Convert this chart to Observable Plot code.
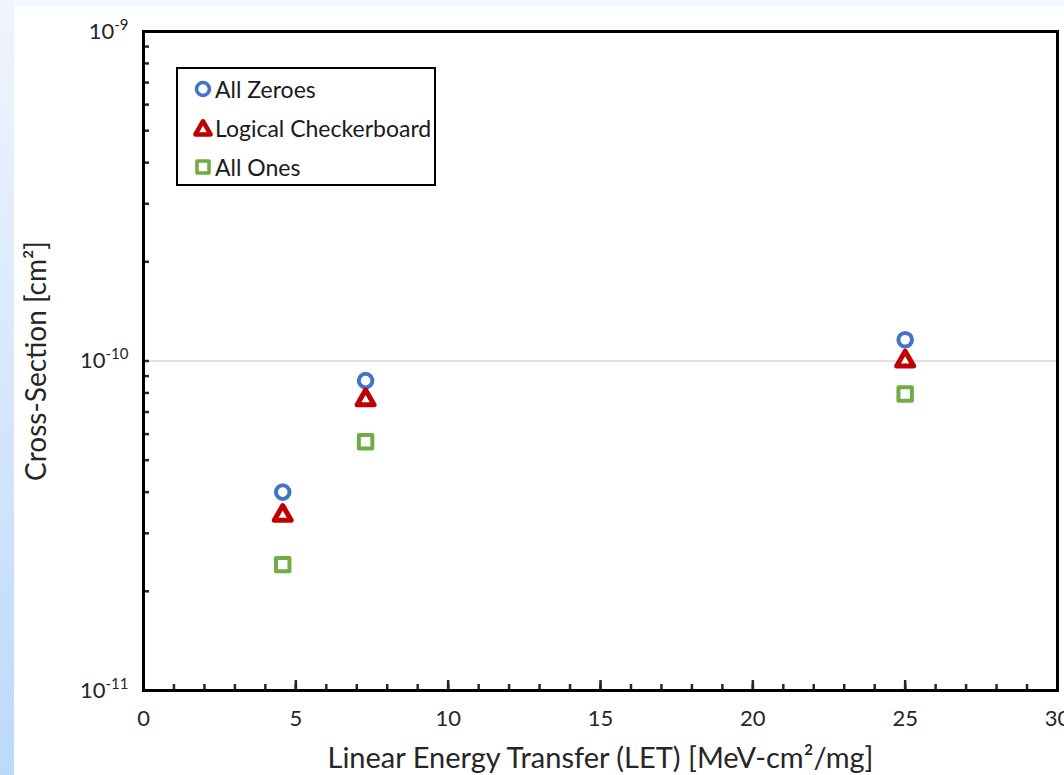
<!DOCTYPE html>
<html><head><meta charset="utf-8">
<script src="https://cdn.jsdelivr.net/npm/d3@7"></script>
<script src="https://cdn.jsdelivr.net/npm/@observablehq/plot@0.6"></script>
<style>
html,body{margin:0;padding:0;}
body{width:1064px;height:775px;background:#f3f7fe;position:relative;overflow:hidden;font-family:Lato,"Open Sans",sans-serif;}
#strip{position:absolute;left:0;top:0;width:14px;height:775px;background:linear-gradient(#f0f5fd,#bcd9fb);}
#chart{position:absolute;left:14px;top:6px;width:1050px;height:769px;background:#fff;}
#legend{position:absolute;left:162px;top:61px;width:256px;height:115px;border:2px solid #000;background:#fff;}
.row{height:39px;display:flex;align-items:center;font-size:23px;color:#1a1a1a;}
.row svg{margin-left:15px;margin-right:2px;}
</style>
</head><body>
<div id="strip"></div>
<div id="chart"></div>
<script>
// ---- data ----
const letValues = [4.57, 7.29, 25.0];
const allZeroes = [4.0e-11, 8.72e-11, 1.16e-10];
const checkerboard = [3.40e-11, 7.62e-11, 1.00e-10];
const allOnes = [2.41e-11, 5.69e-11, 7.94e-11];
const seriesNames = ["All Zeroes", "Logical Checkerboard", "All Ones"];
const xTicksMajor = [0, 5, 10, 15, 20, 25, 30];
const xTicksMinor = d3.range(0, 31);
const yTicksMajor = [1e-11, 1e-10, 1e-9];
const yTicksMinor = [2,3,4,5,6,7,8,9].flatMap(m => [m * 1e-11, m * 1e-10]).concat(yTicksMajor);
const xTitle = "Linear Energy Transfer (LET) [MeV-cm²/mg]";
const yTitle = "Cross-Section [cm²]";

const colors = {"All Zeroes": "#4472c4", "Logical Checkerboard": "#c00000", "All Ones": "#70ad47"};
const symbols = {"All Zeroes": "circle", "Logical Checkerboard": "triangle", "All Ones": "square"};
const sizes = {"All Zeroes": 6.8, "Logical Checkerboard": 6.3, "All Ones": 7.6};
const widths = {"All Zeroes": 4, "Logical Checkerboard": 5, "All Ones": 4};
const seriesVals = {"All Zeroes": allZeroes, "Logical Checkerboard": checkerboard, "All Ones": allOnes};

const dotMarks = seriesNames.map(name =>
  Plot.dot(letValues.map((x, i) => ({x, y: seriesVals[name][i]})), {
    x: "x", y: "y", symbol: () => symbols[name], r: sizes[name],
    stroke: colors[name], strokeWidth: widths[name], fill: "white", strokeLinejoin: "round"
  })
);

const chart = Plot.plot({
  width: 1050, height: 769,
  marginLeft: 129, marginRight: 7, marginTop: 25, marginBottom: 85,
  style: {background: "white", fontFamily: "Lato, 'Open Sans', sans-serif", color: "#262626"},
  x: {domain: [0, 30]},
  y: {type: "log", domain: [1e-11, 1e-9]},
  symbol: {type: "identity"},
  marks: [
    Plot.ruleY([1e-10], {stroke: "#d9d9d9", strokeWidth: 1.3}),
    Plot.axisY({ticks: yTicksMinor, tickSize: -6, strokeWidth: 2.5, tickFormat: () => "", label: null}),
    Plot.axisY({ticks: yTicksMajor, tickSize: 0, tickPadding: 15, fontSize: 22,
      tickFormat: d => String(Math.round(Math.log10(d))), label: null}),
    Plot.axisX({ticks: xTicksMinor, tickSize: -6, strokeWidth: 2.5, tickFormat: () => "", label: null}),
    Plot.axisX({ticks: xTicksMajor, tickSize: -10, strokeWidth: 2.5, tickPadding: 30, fontSize: 22,
      tickFormat: d => String(d), label: null}),
    Plot.frame({stroke: "black", strokeWidth: 3}),
    Plot.text([yTitle], {frameAnchor: "left", textAnchor: "middle", dx: -106, rotate: -90, text: d => d, fontSize: 28, fill: "#262626"}),
    Plot.text([xTitle], {frameAnchor: "bottom", dy: 77, text: d => d, fontSize: 29, fill: "#262626"}),
    ...dotMarks
  ]
});

// superscript exponents for the y tick labels
d3.select(chart).selectAll('g[aria-label="y-axis tick label"] text').each(function() {
  const exp = this.textContent;
  if (!exp) return;
  const t = d3.select(this);
  t.text("10");
  t.append("tspan").attr("dy", -9).attr("font-size", 15).text(exp);
});
document.getElementById("chart").appendChild(chart);

// legend
const legend = document.createElement("div");
legend.id = "legend";
for (const name of seriesNames) {
  const row = document.createElement("div");
  row.className = "row";
  const s = d3.create("svg").attr("width", 20).attr("height", 20);
  const sym = {circle: d3.symbolCircle, triangle: d3.symbolTriangle, square: d3.symbolSquare}[symbols[name]];
  s.append("path")
    .attr("transform", symbols[name] === "triangle" ? "translate(10,12)" : "translate(10,10)")
    .attr("d", d3.symbol(sym, Math.PI * sizes[name] * sizes[name] * (symbols[name]==="circle"?0.9:0.8))())
    .attr("fill", "white").attr("stroke", colors[name]).attr("stroke-width", widths[name] * 0.9)
    .attr("stroke-linejoin", "round");
  row.appendChild(s.node());
  const span = document.createElement("span");
  span.textContent = name;
  row.appendChild(span);
  legend.appendChild(row);
}
document.getElementById("chart").appendChild(legend);
</script>
</body></html>
